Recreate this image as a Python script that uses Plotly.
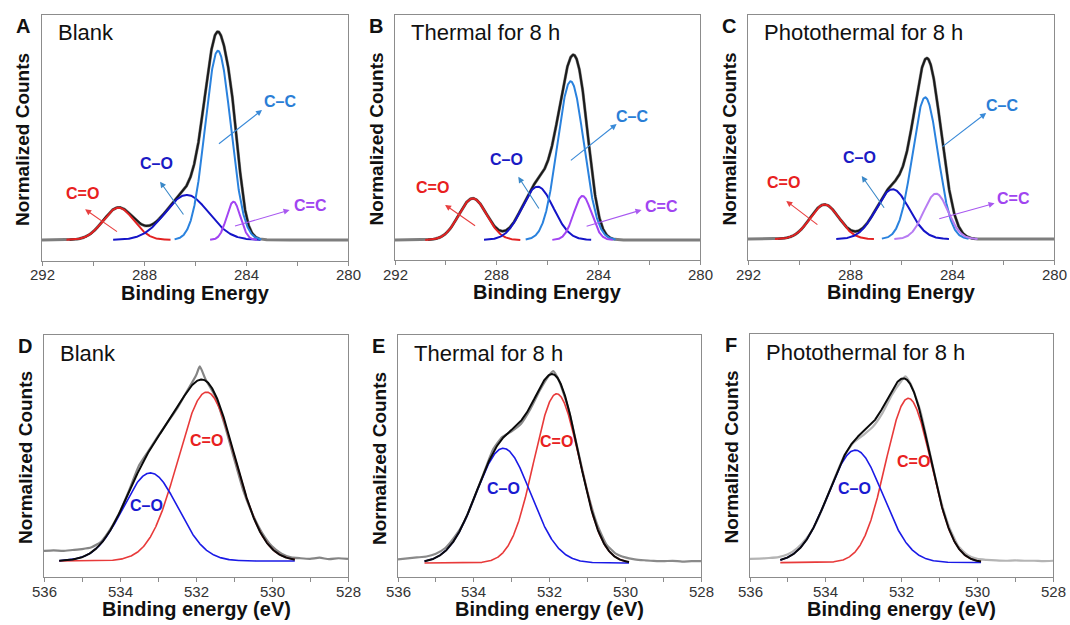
import numpy as np
import plotly.graph_objects as go

# ---------------- C 1s peak fits: centre (eV), height (normalized), Gaussian sigma (eV)
c1s_names = ["C=O", "C–O", "C–C", "C=C"]

c1s_blank_center = [289.00, 286.32, 285.10, 284.49]
c1s_blank_height = [0.156, 0.218, 0.916, 0.185]
c1s_blank_sigma = [0.60, 0.85, 0.50, 0.27]

c1s_thermal_center = [288.94, 286.39, 285.09, 284.62]
c1s_thermal_height = [0.223, 0.286, 0.850, 0.236]
c1s_thermal_sigma = [0.55, 0.62, 0.52, 0.35]

c1s_photo_center = [289.00, 286.33, 285.05, 284.63]
c1s_photo_height = [0.190, 0.274, 0.779, 0.250]
c1s_photo_sigma = [0.57, 0.65, 0.50, 0.48]

# ---------------- O 1s peak fits
o1s_names = ["C=O", "C–O"]

o1s_blank_center = [531.72, 533.20]
o1s_blank_height = [0.92, 0.48]
o1s_blank_sigma = [0.75, 0.72]

o1s_thermal_center = [531.81, 533.22]
o1s_thermal_height = [0.90, 0.61]
o1s_thermal_sigma = [0.60, 0.72]

o1s_photo_center = [531.82, 533.22]
o1s_photo_height = [0.90, 0.616]
o1s_photo_sigma = [0.60, 0.72]

# ---------------- O 1s measured spectra (normalized counts)
o1s_energy = [536.0, 535.75, 535.5, 535.25, 535.0, 534.75, 534.5, 534.25, 534.0,
              533.75, 533.5, 533.25, 533.0, 532.75, 532.5, 532.25, 532.0, 531.9,
              531.75, 531.5, 531.25, 531.0, 530.75, 530.5, 530.25, 530.0, 529.75,
              529.5, 529.25, 529.0, 528.75, 528.5, 528.25, 528.0]
o1s_blank_raw = [0.055, 0.058, 0.055, 0.060, 0.065, 0.075, 0.105, 0.175, 0.270,
                 0.390, 0.520, 0.600, 0.680, 0.755, 0.830, 0.920, 1.010, 1.060,
                 0.990, 0.900, 0.745, 0.560, 0.380, 0.250, 0.150, 0.080, 0.040,
                 0.020, 0.015, 0.012, 0.018, 0.010, 0.015, 0.012]
o1s_thermal_raw = [0.020, 0.025, 0.030, 0.035, 0.050, 0.080, 0.140, 0.220, 0.340,
                   0.470, 0.600, 0.670, 0.700, 0.740, 0.820, 0.920, 1.000, 1.020,
                   0.970, 0.820, 0.600, 0.380, 0.210, 0.100, 0.050, 0.030, 0.020,
                   0.015, 0.012, 0.010, 0.012, 0.008, 0.010, 0.010]
o1s_photo_raw = [0.020, 0.022, 0.025, 0.030, 0.045, 0.080, 0.135, 0.220, 0.340,
                 0.470, 0.590, 0.660, 0.700, 0.745, 0.820, 0.920, 0.995, 1.020,
                 0.975, 0.830, 0.600, 0.370, 0.200, 0.090, 0.040, 0.020, 0.015,
                 0.012, 0.010, 0.012, 0.010, 0.010, 0.008, 0.010]

panel_letters = ["A", "B", "C", "D", "E", "F"]
panel_titles = ["Blank", "Thermal for 8 h", "Photothermal for 8 h",
                "Blank", "Thermal for 8 h", "Photothermal for 8 h"]
c1s_ticks = [292, 290, 288, 286, 284, 282, 280]
c1s_tick_labels = [292, 288, 284, 280]
o1s_ticks = [536, 535, 534, 533, 532, 531, 530, 529, 528]
o1s_tick_labels = [536, 534, 532, 530, 528]

# ---------------- styling / layout
W, H = 1070, 625
FONT = "Liberation Sans, Arial, sans-serif"
FRAME = "#8c8c8c"
RED, DBLUE, LBLUE = "#e32222", "#1414c8", "#2a82de"
PURPLES = ["#a244f2", "#a244f2", "#b77cf2"]
LABEL_COL = {"C=O": "#e82020", "C–O": "#1a1ac4", "C–C": "#2a7ed6", "C=C": "#a044f0"}
ARROW_COL = {"C=O": "#e84040", "C–O": "#3a88c8", "C–C": "#3a8ad8", "C=C": "#a858f0"}

# plot boxes in pixels: left, right, top, bottom
boxes = [(42, 348, 15, 261), (395, 700, 15, 260), (748, 1054, 15, 260),
         (44, 348, 335, 577), (398, 701, 335, 577), (750, 1053, 334, 577)]
y_ranges = [(-0.102, 1.089), (-0.107, 1.205), (-0.115, 1.232),
            (-0.087, 1.231), (-0.074, 1.212), (-0.079, 1.252)]

# arrow tail, arrow head, label position (eV, counts) for the C 1s panels
c1s_arrows = [
    {"C=O": ((289.00, 0.035), (290.31, 0.148), (290.42, 0.226)),
     "C–O": ((286.41, 0.116), (287.37, 0.282), (287.50, 0.371)),
     "C–C": ((285.12, 0.460), (283.37, 0.629), (282.65, 0.669)),
     "C=C": ((284.49, 0.065), (282.29, 0.145), (281.48, 0.165))},
    {"C=O": ((288.79, 0.071), (290.03, 0.188), (290.52, 0.282)),
     "C–O": ((286.30, 0.161), (287.15, 0.339), (287.61, 0.429)),
     "C–C": ((285.14, 0.420), (283.28, 0.621), (282.69, 0.661)),
     "C=C": ((284.52, 0.071), (282.30, 0.161), (281.51, 0.182))},
    {"C=O": ((289.22, 0.073), (290.50, 0.210), (290.60, 0.310)),
     "C–O": ((286.62, 0.164), (287.54, 0.347), (287.62, 0.447)),
     "C–C": ((284.43, 0.502), (282.66, 0.693), (282.03, 0.734)),
     "C=C": ((284.56, 0.109), (282.33, 0.197), (281.59, 0.223))},
]
o1s_label_pos = [
    {"C=O": (531.72, 0.655), "C–O": (533.30, 0.304)},
    {"C=O": (531.81, 0.646), "C–O": (533.22, 0.398)},
    {"C=O": (531.68, 0.552), "C–O": (533.25, 0.406)},
]
o1s_fit_range = [(529.4, 535.6), (529.9, 535.3), (529.9, 535.2)]
o1s_raw_color = ["#858585", "#8a8a8a", "#b4b4b4"]


def gauss(x, c, h, s):
    return h * np.exp(-((x - c) ** 2) / (2 * s ** 2))


fig = go.Figure()

c1s_sets = [(c1s_blank_center, c1s_blank_height, c1s_blank_sigma),
            (c1s_thermal_center, c1s_thermal_height, c1s_thermal_sigma),
            (c1s_photo_center, c1s_photo_height, c1s_photo_sigma)]
o1s_sets = [(o1s_blank_center, o1s_blank_height, o1s_blank_sigma, o1s_blank_raw),
            (o1s_thermal_center, o1s_thermal_height, o1s_thermal_sigma, o1s_thermal_raw),
            (o1s_photo_center, o1s_photo_height, o1s_photo_sigma, o1s_photo_raw)]

annotations = []

# ---- C 1s panels
for i, (cen, hei, sig) in enumerate(c1s_sets):
    xa, ya = f"x{i + 1}", f"y{i + 1}"
    grid = np.linspace(292, 280, 1201)
    env = sum(gauss(grid, c, h, s) for c, h, s in zip(cen, hei, sig))
    # measured spectrum (grey, under the fit)
    fig.add_trace(go.Scatter(x=grid, y=env, mode="lines", xaxis=xa, yaxis=ya,
                             line=dict(color="#7e7e7e", width=3.0), hoverinfo="skip"))
    lo = min(c - 3.2 * s for c, s in zip(cen, sig))
    hi = max(c + 3.2 * s for c, s in zip(cen, sig))
    mask = (grid >= lo) & (grid <= hi)
    fig.add_trace(go.Scatter(x=grid[mask], y=env[mask], mode="lines", xaxis=xa, yaxis=ya,
                             line=dict(color="#1a1a1a", width=2.0), hoverinfo="skip"))
    colors = [RED, DBLUE, LBLUE, PURPLES[i]]
    for name, c, h, s, col in zip(c1s_names, cen, hei, sig, colors):
        xs = np.linspace(c + 3.4 * s, c - 3.4 * s, 300)
        fig.add_trace(go.Scatter(x=xs, y=gauss(xs, c, h, s), mode="lines", xaxis=xa, yaxis=ya,
                                 line=dict(color=col, width=2.0), hoverinfo="skip"))
    for name in c1s_names:
        tail, head, lab = c1s_arrows[i][name]
        annotations.append(dict(x=head[0], y=head[1], ax=tail[0], ay=tail[1],
                                xref=xa, yref=ya, axref=xa, ayref=ya, text="",
                                showarrow=True, arrowhead=2, arrowsize=1.1, arrowwidth=1.1,
                                arrowcolor=ARROW_COL[name], standoff=0, startstandoff=0))
        annotations.append(dict(x=lab[0], y=lab[1], xref=xa, yref=ya, text=f"<b>{name}</b>",
                                showarrow=False, xanchor="center", yanchor="middle",
                                font=dict(family=FONT, size=16, color=LABEL_COL[name])))

# ---- O 1s panels
for j, (cen, hei, sig, raw) in enumerate(o1s_sets):
    i = j + 3
    xa, ya = f"x{i + 1}", f"y{i + 1}"
    fig.add_trace(go.Scatter(x=o1s_energy, y=raw, mode="lines", xaxis=xa, yaxis=ya,
                             line=dict(color=o1s_raw_color[j], width=2.2, shape="spline",
                                       smoothing=0.5), hoverinfo="skip"))
    lo, hi = o1s_fit_range[j]
    grid = np.linspace(hi, lo, 800)
    env = sum(gauss(grid, c, h, s) for c, h, s in zip(cen, hei, sig))
    for name, c, h, s, col in zip(o1s_names, cen, hei, sig, ["#e83a3a", "#1a1ae6"]):
        fig.add_trace(go.Scatter(x=grid, y=gauss(grid, c, h, s), mode="lines", xaxis=xa, yaxis=ya,
                                 line=dict(color=col, width=1.6), hoverinfo="skip"))
    fig.add_trace(go.Scatter(x=grid, y=env, mode="lines", xaxis=xa, yaxis=ya,
                             line=dict(color="#0a0a0a", width=2.0), hoverinfo="skip"))
    for name in o1s_names:
        px_, py_ = o1s_label_pos[j][name]
        annotations.append(dict(x=px_, y=py_, xref=xa, yref=ya, text=f"<b>{name}</b>",
                                showarrow=False, xanchor="center", yanchor="middle",
                                font=dict(family=FONT, size=16,
                                          color="#e82020" if name == "C=O" else "#1a1ad0")))

# ---- axes, tick labels, letters, titles
layout_axes = {}
for i, (l, r, t, b) in enumerate(boxes):
    n = "" if i == 0 else str(i + 1)
    c1s = i < 3
    ticks = c1s_ticks if c1s else o1s_ticks
    labels = c1s_tick_labels if c1s else o1s_tick_labels
    layout_axes[f"xaxis{n}"] = dict(
        domain=[l / W, r / W], anchor=f"y{i + 1}",
        range=[ticks[0], ticks[-1]], tickvals=ticks, showticklabels=False,
        ticks="outside", ticklen=4, tickwidth=1, tickcolor=FRAME,
        showline=True, linecolor=FRAME, linewidth=1, mirror=True,
        showgrid=False, zeroline=False, automargin=False)
    layout_axes[f"yaxis{n}"] = dict(
        domain=[1 - b / H, 1 - t / H], anchor=f"x{i + 1}",
        range=list(y_ranges[i]), showticklabels=False, ticks="",
        showline=True, linecolor=FRAME, linewidth=1, mirror=True,
        showgrid=False, zeroline=False, automargin=False)

    # tick labels placed just under the frame
    for v in labels:
        annotations.append(dict(x=v, y=1 - (b + 14) / H, xref=f"x{i + 1}", yref="paper",
                                text=str(v), showarrow=False, xanchor="center", yanchor="middle",
                                font=dict(family=FONT, size=15, color="#333333")))
    # panel letter
    annotations.append(dict(x=(l - 19) / W, y=1 - (t + 11) / H, xref="paper", yref="paper",
                            text=f"<b>{panel_letters[i]}</b>", showarrow=False,
                            xanchor="center", yanchor="middle",
                            font=dict(family=FONT, size=20, color="#111111")))
    # sample label
    annotations.append(dict(x=(l + 14) / W, y=1 - (t + 18) / H, xref="paper", yref="paper",
                            text=panel_titles[i], showarrow=False,
                            xanchor="left", yanchor="middle",
                            font=dict(family=FONT, size=22, color="#111111")))
    # y title
    annotations.append(dict(x=(l - 19) / W, y=1 - ((t + b) / 2 + 2) / H, xref="paper", yref="paper",
                            text="<b>Normalized Counts</b>", showarrow=False, textangle=-90,
                            xanchor="center", yanchor="middle",
                            font=dict(family=FONT, size=19, color="#111111")))
    # x title
    annotations.append(dict(x=(l + r) / 2 / W, y=1 - (b + 32) / H, xref="paper", yref="paper",
                            text="<b>Binding Energy</b>" if c1s else "<b>Binding energy (eV)</b>",
                            showarrow=False, xanchor="center", yanchor="middle",
                            font=dict(family=FONT, size=20, color="#111111")))

fig.update_layout(
    width=W, height=H, margin=dict(l=0, r=0, t=0, b=0, pad=0),
    paper_bgcolor="white", plot_bgcolor="white", showlegend=False,
    annotations=annotations, **layout_axes)

# page without the default body margin so the figure sits at the window origin
fig.write_html("out.html",
               post_script="document.documentElement.style.margin='0';"
                           "document.body.style.margin='0';"
                           "document.body.style.overflow='hidden';")
